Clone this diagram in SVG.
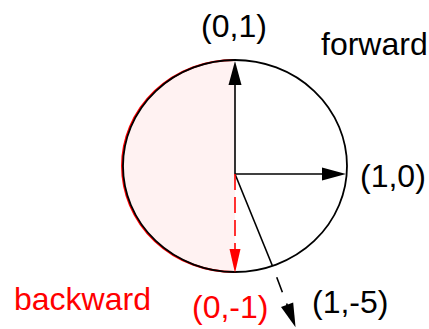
<svg xmlns="http://www.w3.org/2000/svg" width="429" height="329" viewBox="0 0 429 329">
<defs>
<style>
.lbl{font-family:"Liberation Sans",Arial,sans-serif;font-size:32px;}
.blk{fill:#000;}
.red{fill:#ff0000;}
.ln{stroke:#000;stroke-width:1.6;fill:none;}
.rln{stroke:#ff0000;stroke-width:1.6;fill:none;}
</style>
<marker id="ah" markerUnits="userSpaceOnUse" markerWidth="24" markerHeight="13" refX="2" refY="6.5" orient="auto" overflow="visible">
<path d="M0,0 L24,6.5 L0,13 z" fill="#000"/>
</marker>
<marker id="ahr" markerUnits="userSpaceOnUse" markerWidth="24" markerHeight="13" refX="2" refY="6.5" orient="auto" overflow="visible">
<path d="M0,1 L24,6.5 L0,12 z" fill="#ff0000"/>
</marker>
</defs>
<rect width="429" height="329" fill="#fff"/>
<g id="circle">
<path d="M235,60 A112,106 0 0 0 235,272 Z" fill="#fff2f2" stroke="none"/>
<path d="M234,60 A112,106 0 0 0 234,272" fill="none" stroke="#ff0000" stroke-width="2"/>
<ellipse cx="235" cy="166" rx="112" ry="106" fill="none" stroke="#000" stroke-width="1.8"/>
</g>
<g id="connectors">
<line class="ln" x1="235" y1="174" x2="235" y2="83" marker-end="url(#ah)"/>
<line class="ln" x1="235" y1="174" x2="324" y2="174" marker-end="url(#ah)"/>
<line class="ln" x1="235" y1="174" x2="272.5" y2="266"/>
<line class="ln" x1="272.5" y1="266" x2="287.8" y2="306.6" stroke-dasharray="16,12" stroke-dashoffset="16" marker-end="url(#ah)"/>
<line class="rln" x1="235" y1="174" x2="235" y2="251" stroke-dasharray="16,7" marker-end="url(#ahr)"/>
</g>
<g id="labels">
<text id="l01" class="lbl blk" x="234" y="37" text-anchor="middle">(0,1)</text>
<text id="lfwd" class="lbl blk" x="321" y="55">forward</text>
<text id="l10" class="lbl blk" x="360" y="187">(1,0)</text>
<text id="l15" class="lbl blk" x="312" y="313">(1,-5)</text>
<text id="l0m1" class="lbl red" x="192" y="318">(0,-1)</text>
<text id="lbwd" class="lbl red" x="14" y="310">backward</text>
</g>
</svg>
